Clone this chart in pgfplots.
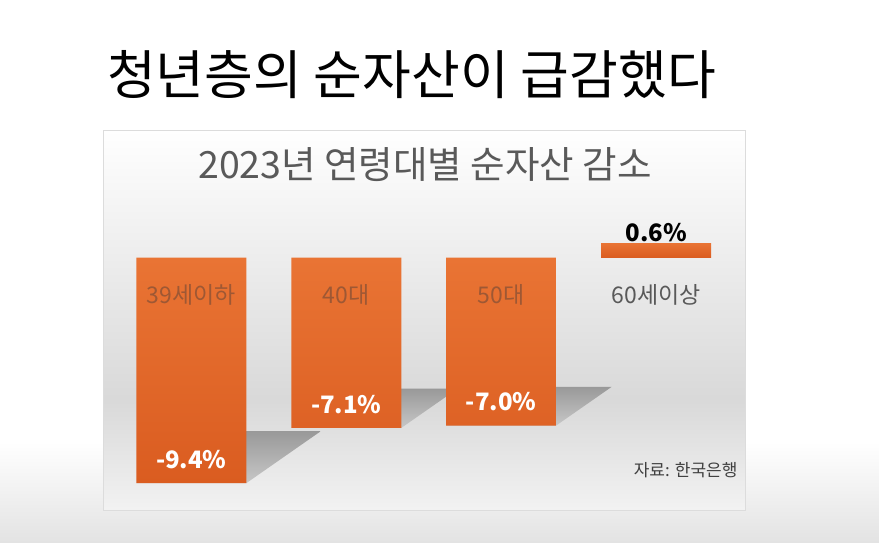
\documentclass[border=0pt]{standalone}
\usepackage{fontspec}
\setmainfont{Noto Sans CJK KR}
\usepackage{pgfplots}
\pgfplotsset{compat=1.18}
\definecolor{barc}{RGB}{228,106,44}
\definecolor{bartop}{RGB}{233,116,52}
\definecolor{barbot}{RGB}{218,92,32}
\definecolor{catc}{RGB}{158,88,52}
\definecolor{titlegray}{RGB}{89,89,89}
\definecolor{boxline}{RGB}{220,220,220}
\begin{document}
\begin{tikzpicture}[x=1pt,y=1pt]
\path[use as bounding box] (0,0) rectangle (879,542);
\fill[white] (0,0) rectangle (879,542);
% slide bottom gradient
\shade[top color=white, bottom color=black!11] (0,0) rectangle (879,100);
% chart box background
\shade[top color=white, bottom color=black!15] (103,142) rectangle (745,412);
\shade[top color=black!15, bottom color=black!5] (103,32) rectangle (745,142);
\draw[boxline, line width=0.8pt] (103,32) rectangle (745,412);
% slide title
\node[font=\fontsize{53}{53}\selectfont, text=black] at (411.5,467) {청년층의 순자산이 급감했다};
% chart title
\node[font=\fontsize{37.5}{37.5}\selectfont, text=titlegray] at (425,377) {2023년 연령대별 순자산 감소};
% source
\node[font=\fontsize{17}{17}\selectfont, text=black!75, anchor=east] at (741,72) {자료: 한국은행};
\begin{axis}[
  at={(113.95pt,32.5pt)}, anchor=south west,
  scale only axis, width=619.6pt, height=288pt,
  xmin=-0.5, xmax=3.5, ymin=-10.5, ymax=1.5,
  axis on top,
  axis line style={draw=none},
  xtick={0,1,2,3},
  xticklabels={{\textcolor{catc}{39세이하}},{\textcolor{catc}{40대}},{\textcolor{catc}{50대}},{\textcolor{titlegray}{60세이상}}},
  xticklabel style={anchor=center, yshift=214.5pt, font=\fontsize{23}{23}\selectfont},
  xtick style={draw=none},
  ytick=\empty,
  clip=false,
]
% perspective shadows
\addplot[draw=none, top color=black!40, bottom color=black!22, forget plot]
  coordinates {(-0.3551,-9.4) (0.3551,-9.4) (0.8351,-7.238) (0.1249,-7.238)} --cycle;
\addplot[draw=none, top color=black!40, bottom color=black!22, forget plot]
  coordinates {(0.6449,-7.1) (1.3551,-7.1) (1.7181,-5.467) (1.0079,-5.467)} --cycle;
\addplot[draw=none, top color=black!40, bottom color=black!22, forget plot]
  coordinates {(1.6449,-7.0) (2.3551,-7.0) (2.7131,-5.39) (2.0029,-5.39)} --cycle;
% negative bars
\addplot[ybar, bar width=110pt, bar shift=0pt, draw=none, top color=bartop, bottom color=barbot,
  nodes near coords, point meta=explicit symbolic,
  every node near coord/.append style={anchor=center, yshift=23.5pt, text=white, font=\bfseries\fontsize{24}{24}\selectfont}]
  coordinates {(0,-9.4) [-9.4\%] (1,-7.1) [-7.1\%] (2,-7.0) [-7.0\%]};
% positive bar
\addplot[ybar, bar width=110pt, bar shift=0pt, draw=none, top color=bartop, bottom color=barbot,
  nodes near coords, point meta=explicit symbolic,
  every node near coord/.append style={anchor=center, yshift=11pt, text=black, font=\bfseries\fontsize{24}{24}\selectfont}]
  coordinates {(3,0.6) [0.6\%]};
\end{axis}
\end{tikzpicture}
\end{document}
